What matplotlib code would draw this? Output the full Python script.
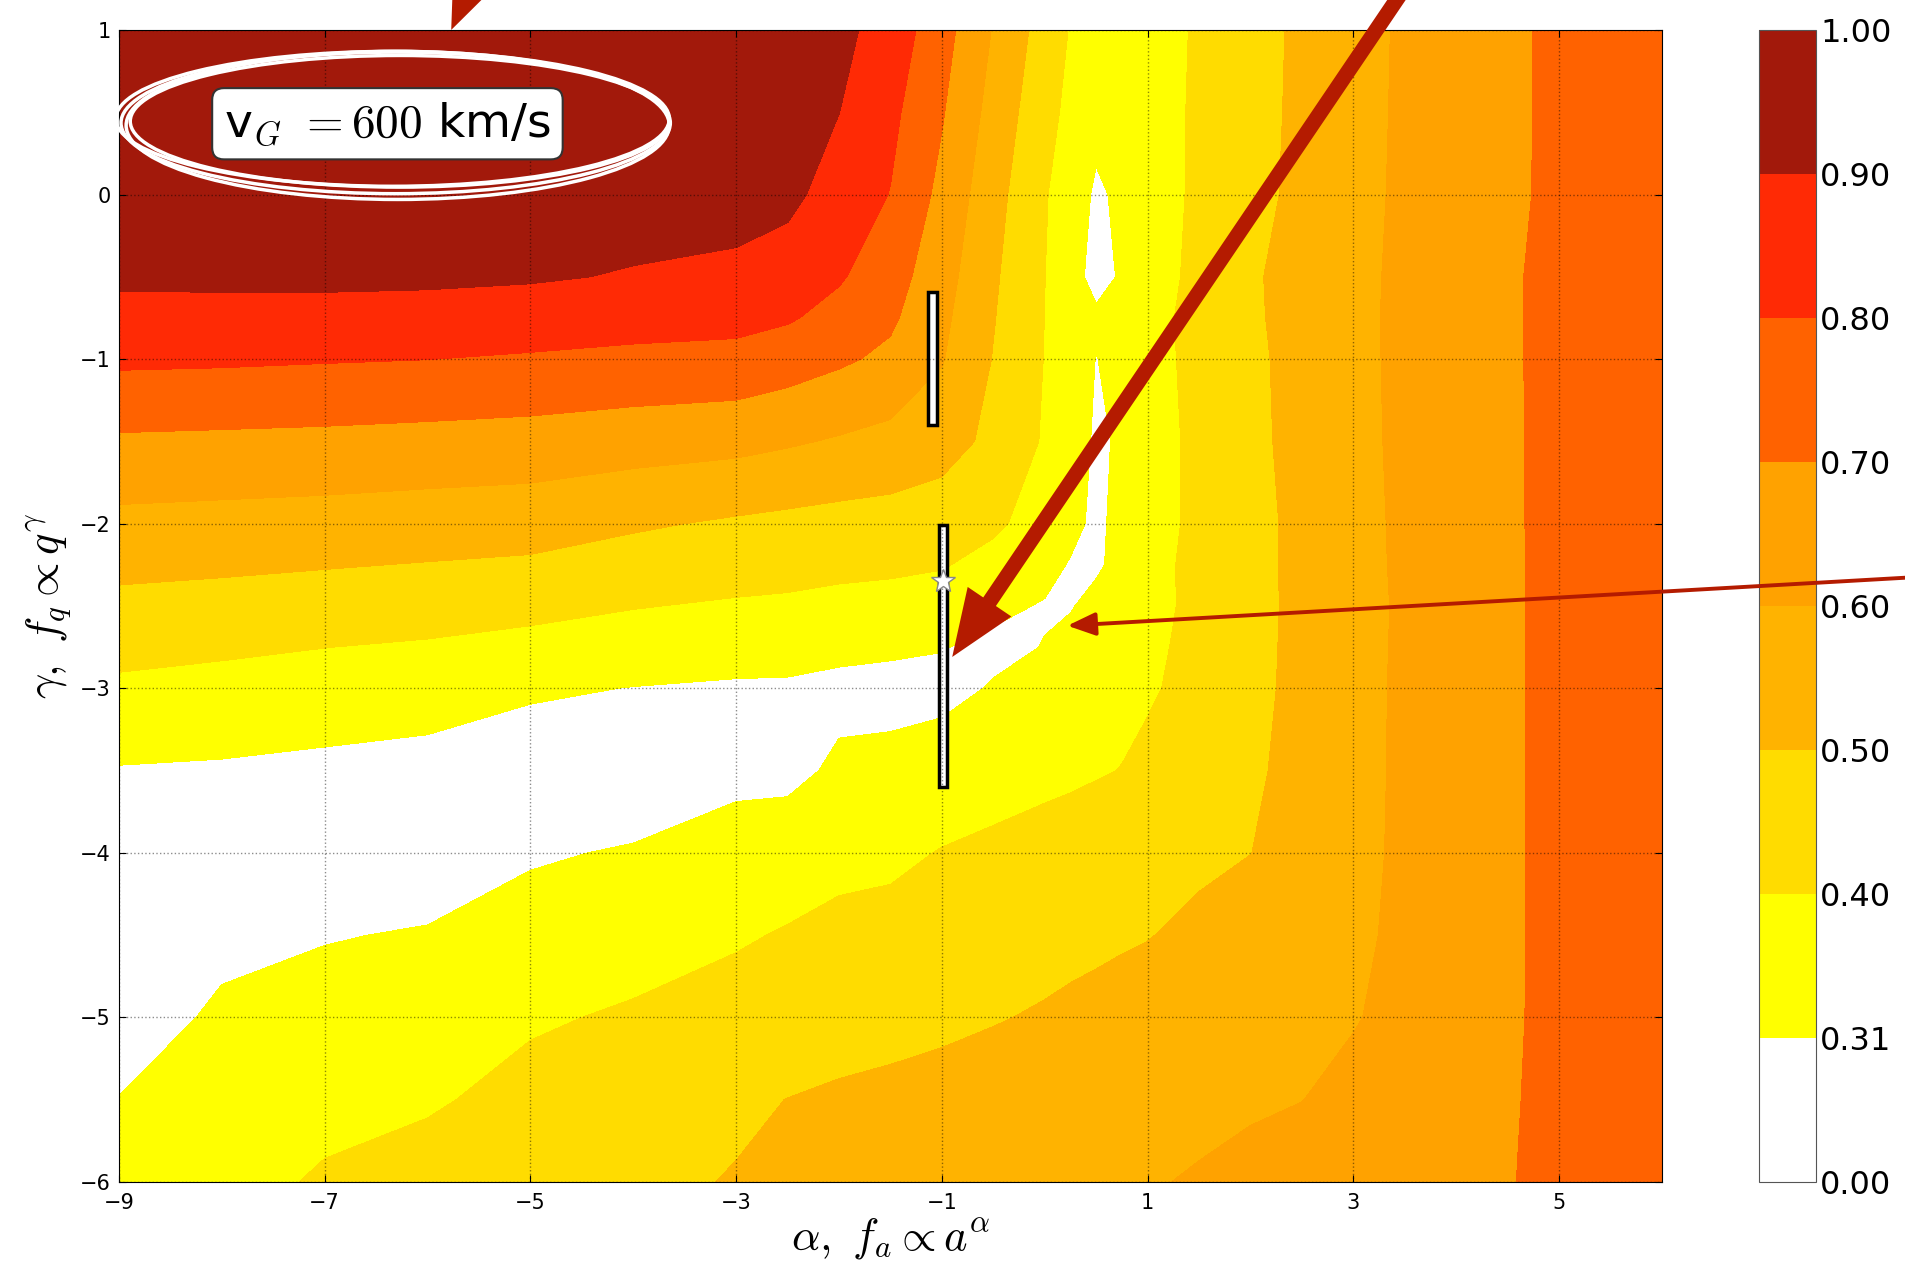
import numpy as np
import matplotlib.pyplot as plt
from matplotlib.patches import Ellipse, FancyArrowPatch

plt.rcParams['mathtext.fontset'] = 'cm'

# =============================================================================
# --- Donnees : fraction sur la grille (alpha, gamma) ---
# =============================================================================

alpha = [-9, -8, -7, -6, -5, -4, -3, -2.5, -2, -1.5, -1, -0.5, 0, 0.25, 0.5,
         0.75, 1, 1.5, 2, 2.5, 3, 3.5, 4, 4.5, 5, 5.5, 6]
gamma = [1, 0.5, 0, -0.5, -0.75, -1, -1.5, -2, -2.25, -2.5, -2.75, -3, -3.5,
         -4, -4.5, -5, -5.5, -6]

# une ligne par valeur de gamma (de haut en bas)
frac = [
    [0.98, 0.98, 0.98, 0.98, 0.98, 0.98, 0.975, 0.97, 0.925, 0.86, 0.739, 0.594, 0.458, 0.394, 0.335, 0.346, 0.366, 0.409, 0.464, 0.518, 0.567, 0.613, 0.649, 0.686, 0.715, 0.74, 0.76],
    [0.97, 0.97, 0.97, 0.97, 0.97, 0.97, 0.965, 0.955, 0.901, 0.824, 0.708, 0.565, 0.432, 0.376, 0.33, 0.339, 0.363, 0.413, 0.467, 0.52, 0.57, 0.614, 0.65, 0.686, 0.715, 0.74, 0.76],
    [0.95, 0.95, 0.95, 0.95, 0.95, 0.945, 0.94, 0.925, 0.857, 0.797, 0.674, 0.536, 0.408, 0.346, 0.30, 0.322, 0.355, 0.417, 0.471, 0.523, 0.572, 0.616, 0.651, 0.687, 0.715, 0.74, 0.76],
    [0.915, 0.918, 0.92, 0.918, 0.91, 0.893, 0.878, 0.852, 0.81, 0.743, 0.64, 0.514, 0.401, 0.345, 0.28, 0.32, 0.356, 0.425, 0.488, 0.535, 0.578, 0.618, 0.655, 0.691, 0.72, 0.74, 0.76],
    [0.873, 0.87, 0.867, 0.861, 0.851, 0.838, 0.829, 0.81, 0.768, 0.716, 0.622, 0.505, 0.399, 0.364, 0.326, 0.347, 0.372, 0.426, 0.486, 0.534, 0.579, 0.619, 0.655, 0.691, 0.72, 0.74, 0.76],
    [0.818, 0.814, 0.807, 0.801, 0.79, 0.778, 0.771, 0.747, 0.715, 0.68, 0.606, 0.496, 0.397, 0.356, 0.308, 0.337, 0.367, 0.426, 0.481, 0.531, 0.578, 0.619, 0.655, 0.691, 0.72, 0.74, 0.76],
    [0.686, 0.681, 0.676, 0.668, 0.66, 0.643, 0.629, 0.611, 0.591, 0.571, 0.54, 0.477, 0.39, 0.346, 0.30, 0.318, 0.357, 0.424, 0.478, 0.529, 0.576, 0.618, 0.654, 0.69, 0.72, 0.74, 0.76],
    [0.574, 0.567, 0.56, 0.55, 0.542, 0.513, 0.487, 0.476, 0.466, 0.46, 0.447, 0.415, 0.363, 0.33, 0.295, 0.332, 0.363, 0.421, 0.472, 0.523, 0.572, 0.616, 0.653, 0.69, 0.72, 0.74, 0.76],
    [0.524, 0.516, 0.506, 0.496, 0.486, 0.457, 0.438, 0.431, 0.421, 0.416, 0.406, 0.373, 0.333, 0.305, 0.298, 0.335, 0.37, 0.425, 0.474, 0.522, 0.571, 0.615, 0.652, 0.689, 0.72, 0.74, 0.76],
    [0.475, 0.465, 0.453, 0.441, 0.426, 0.404, 0.39, 0.385, 0.376, 0.369, 0.36, 0.325, 0.305, 0.305, 0.334, 0.355, 0.375, 0.42, 0.472, 0.522, 0.569, 0.613, 0.651, 0.689, 0.72, 0.74, 0.76],
    [0.427, 0.414, 0.401, 0.39, 0.372, 0.357, 0.343, 0.337, 0.329, 0.32, 0.313, 0.295, 0.312, 0.335, 0.35, 0.365, 0.383, 0.423, 0.474, 0.523, 0.57, 0.614, 0.651, 0.689, 0.72, 0.74, 0.76],
    [0.383, 0.372, 0.36, 0.349, 0.322, 0.308, 0.30, 0.30, 0.29, 0.29, 0.29, 0.315, 0.34, 0.352, 0.366, 0.378, 0.39, 0.427, 0.476, 0.524, 0.571, 0.615, 0.652, 0.689, 0.72, 0.74, 0.76],
    [0.305, 0.30, 0.29, 0.28, 0.26, 0.25, 0.29, 0.29, 0.323, 0.328, 0.346, 0.362, 0.377, 0.384, 0.393, 0.402, 0.419, 0.453, 0.486, 0.527, 0.573, 0.615, 0.652, 0.689, 0.72, 0.74, 0.76],
    [0.24, 0.25, 0.25, 0.26, 0.30, 0.318, 0.343, 0.353, 0.375, 0.382, 0.404, 0.419, 0.435, 0.443, 0.451, 0.459, 0.468, 0.484, 0.499, 0.538, 0.577, 0.615, 0.652, 0.689, 0.72, 0.74, 0.76],
    [0.22, 0.28, 0.305, 0.317, 0.347, 0.366, 0.39, 0.407, 0.423, 0.429, 0.442, 0.458, 0.471, 0.478, 0.484, 0.491, 0.497, 0.518, 0.541, 0.564, 0.586, 0.615, 0.652, 0.689, 0.72, 0.74, 0.76],
    [0.25, 0.33, 0.345, 0.353, 0.39, 0.41, 0.437, 0.454, 0.468, 0.472, 0.482, 0.495, 0.508, 0.516, 0.523, 0.53, 0.538, 0.552, 0.567, 0.581, 0.595, 0.623, 0.656, 0.69, 0.72, 0.74, 0.76],
    [0.313, 0.35, 0.375, 0.39, 0.426, 0.456, 0.486, 0.501, 0.511, 0.521, 0.531, 0.54, 0.55, 0.555, 0.56, 0.565, 0.57, 0.58, 0.59, 0.599, 0.622, 0.646, 0.669, 0.693, 0.72, 0.74, 0.76],
    [0.34, 0.37, 0.41, 0.435, 0.457, 0.48, 0.505, 0.514, 0.525, 0.536, 0.548, 0.56, 0.571, 0.577, 0.582, 0.588, 0.594, 0.607, 0.622, 0.636, 0.651, 0.666, 0.681, 0.696, 0.72, 0.74, 0.76],
]

niveaux = [0.00, 0.31, 0.40, 0.50, 0.60, 0.70, 0.80, 0.90, 1.00]
couleurs = ['#ffffff', '#ffff00', '#ffdc00', '#ffb300', '#ffa200',
            '#ff6200', '#ff2a05', '#a2190b']

# barres d'erreur et meilleur ajustement
err_alpha = [-1.09, -0.99]
err_bas = [-1.40, -3.60]
err_haut = [-0.59, -2.01]
best_alpha, best_gamma = -0.99, -2.35

rouge = '#b41b00'

# =============================================================================
# --- Creation de la figure ---
# =============================================================================

fig = plt.figure(figsize=(19.06, 12.69), dpi=100)
ax = fig.add_axes([0.0624, 0.0686, 0.8096, 0.9078])
cax = fig.add_axes([0.9229, 0.0686, 0.0299, 0.9078])

A, G = np.meshgrid(alpha, gamma[::-1])
Z = np.flipud(np.array(frac))
cs = ax.contourf(A, G, Z, levels=niveaux, colors=couleurs)

ax.set_xlim(-9, 6)
ax.set_ylim(-6, 1)
ax.set_xticks([-9, -7, -5, -3, -1, 1, 3, 5])
ax.set_yticks(range(-6, 2))
ax.grid(True, ls=':', color='k', lw=1.0, alpha=0.45)
ax.set_axisbelow(False)
ax.tick_params(direction='in', top=True, right=True, labelsize=15, length=5)
ax.tick_params(axis='x', pad=8)
ax.tick_params(axis='y', pad=6)
ax.set_xlabel(r'$\alpha,\ f_a \propto a^{\alpha}$', fontsize=32, labelpad=2)
ax.set_ylabel(r'$\gamma,\ f_q \propto q^{\gamma}$', fontsize=32)

# barres d'erreur (rectangles blancs bordes de noir)
ax.bar(err_alpha, np.subtract(err_haut, err_bas), bottom=err_bas, width=0.085,
       color='white', edgecolor='black', lw=2.5, zorder=2.2)
ax.plot(best_alpha, best_gamma, marker='*', ms=18, mfc='white', mec='#888888',
        mew=1, zorder=4)

# etiquette entouree a la main
ax.text(-6.39, 0.43, r'v$_G$ $=600$ km/s', fontsize=34, ha='center', va='center',
        bbox=dict(boxstyle='round,pad=0.25', fc='white', ec='#333333', lw=1.5),
        zorder=6)
for w, h, dx, dy in [(5.34, 0.86, 0.0, 0.0), (5.24, 0.80, 0.04, 0.01),
                     (5.38, 0.82, -0.03, 0.025), (5.28, 0.90, 0.02, -0.015)]:
    ax.add_patch(Ellipse((-6.31 + dx, 0.435 + dy), w, h, fill=False, ec='white',
                         lw=2.5, clip_on=False, zorder=5))

# fleches
style_gros = 'simple,head_length=2.4,head_width=1.9,tail_width=0.55'
for debut, fin in [((3.6, 1.35), (-0.90, -2.81)), ((-5.0, 2.1), (-5.77, 1.0))]:
    fig.add_artist(FancyArrowPatch(debut, fin, transform=ax.transData,
                                   arrowstyle=style_gros, mutation_scale=20,
                                   color=rouge, lw=0, shrinkA=0, shrinkB=0,
                                   zorder=5))
fig.add_artist(FancyArrowPatch((8.6, -2.32), (0.22, -2.62), transform=ax.transData,
                               arrowstyle='-|>,head_length=0.85,head_width=0.35',
                               mutation_scale=20, color=rouge, lw=2.8,
                               shrinkA=0, shrinkB=0, zorder=5))

# =============================================================================
# --- Barre de couleur ---
# =============================================================================

cb = fig.colorbar(cs, cax=cax, ticks=niveaux, format='%.2f')
cb.ax.tick_params(labelsize=23, length=0, pad=3)
cb.outline.set_edgecolor('#555555')

fig.savefig('out.png', dpi=100)
